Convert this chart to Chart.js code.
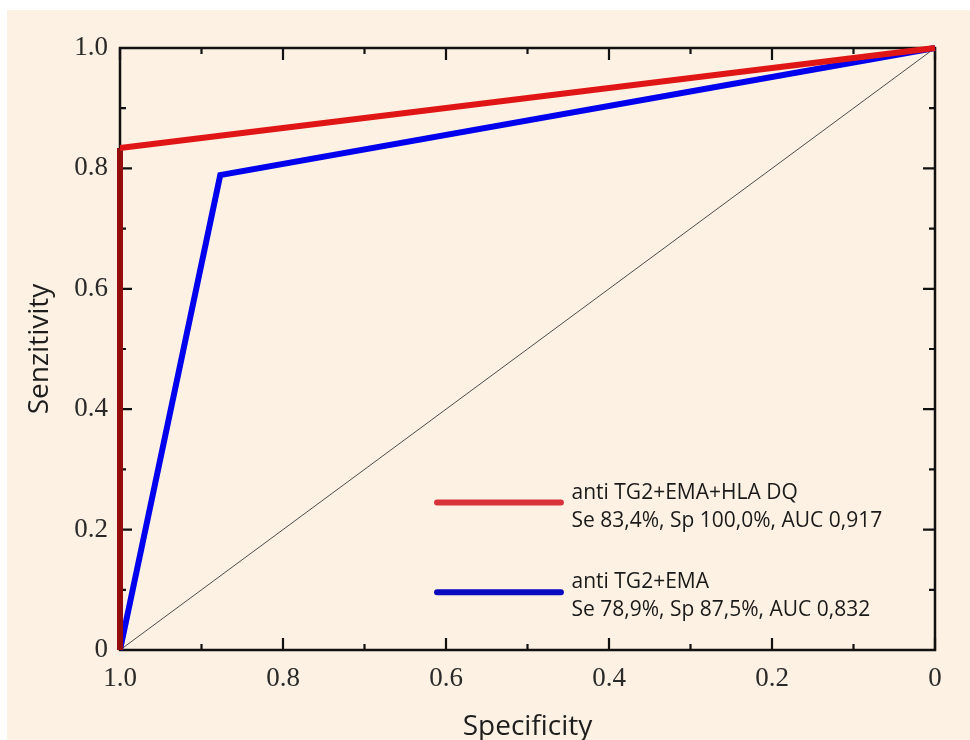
<!DOCTYPE html>
<html>
<head>
<meta charset="utf-8">
<script src="https://cdn.jsdelivr.net/npm/chart.js@4.4.1/dist/chart.umd.min.js"></script>
<style>
  html, body { margin: 0; padding: 0; background: #ffffff; overflow: hidden; }
  .wrap { position: absolute; left: 7px; top: 10px; width: 963px; height: 740px; background: #fcf1e2; }
</style>
</head>
<body>
<div class="wrap"><canvas id="roc"></canvas></div>
<script>
// ROC curves, values (x = specificity, y = sensitivity)
const redSpec = [1.0, 1.0, 0.0];
const redSens = [0.0, 0.834, 1.0];
const blueSpec = [1.0, 0.877, 0.0];
const blueSens = [0.0, 0.789, 1.0];
const refSpec = [1.0, 0.0];
const refSens = [0.0, 1.0];

const legendNames = ["anti TG2+EMA+HLA DQ", "anti TG2+EMA"];
const legendStats = ["Se 83,4%, Sp 100,0%, AUC 0,917", "Se 78,9%, Sp 87,5%, AUC 0,832"];

const RED = "#e01616";
const RED_DARK = "#950c0c";
const BLUE = "#0000ee";

function toPoints(xs, ys) {
  return xs.map(function (v, i) { return { x: v, y: ys[i] }; });
}

function isMajor(v) {
  return Math.round(v * 10) % 2 === 0;
}

function tickLabel(v) {
  const n = Math.round(v * 10);
  if (n % 2 !== 0) return "";
  return n === 0 ? "0" : (n / 10).toFixed(1);
}

// Box frame with inward tick marks on all four sides (major every 0.2, minor 0.1)
const framePlugin = {
  id: "frame",
  beforeDatasetsDraw: function (chart) {
    const ctx = chart.ctx;
    const a = chart.chartArea;
    const xs = chart.scales.x;
    const ys = chart.scales.y;
    ctx.save();
    ctx.strokeStyle = "#111";
    ctx.lineWidth = 2.5;
    ctx.strokeRect(a.left, a.top, a.right - a.left, a.bottom - a.top);
    ctx.lineWidth = 2.2;
    ctx.beginPath();
    xs.ticks.forEach(function (t) {
      const px = xs.getPixelForValue(t.value);
      const len = isMajor(t.value) ? 12 : 6;
      ctx.moveTo(px, a.bottom); ctx.lineTo(px, a.bottom - len);
      ctx.moveTo(px, a.top); ctx.lineTo(px, a.top + len);
    });
    ys.ticks.forEach(function (t) {
      const py = ys.getPixelForValue(t.value);
      const len = isMajor(t.value) ? 12 : 6;
      ctx.moveTo(a.left, py); ctx.lineTo(a.left + len, py);
      ctx.moveTo(a.right, py); ctx.lineTo(a.right - len, py);
    });
    ctx.stroke();
    ctx.restore();
  }
};

// Legend inside the plot, two text lines per entry
const legendPlugin = {
  id: "rocLegend",
  afterDraw: function (chart) {
    const ctx = chart.ctx;
    const xs = chart.scales.x;
    const ys = chart.scales.y;
    const colors = ["#d8323a", "#0a0ac0"];
    const rows = [0.245, 0.096];
    ctx.save();
    rows.forEach(function (r, i) {
      const yPx = ys.getPixelForValue(r);
      const x0 = xs.getPixelForValue(0.611);
      const x1 = xs.getPixelForValue(0.459);
      ctx.strokeStyle = colors[i];
      ctx.lineWidth = 6;
      ctx.lineCap = "round";
      ctx.beginPath();
      ctx.moveTo(x0, yPx);
      ctx.lineTo(x1, yPx);
      ctx.stroke();
      const tx = xs.getPixelForValue(0.446);
      ctx.fillStyle = "#1a1a1a";
      ctx.font = "21px 'Open Sans'";
      ctx.textBaseline = "alphabetic";
      ctx.textAlign = "left";
      ctx.fillText(legendNames[i], tx, yPx - 4);
      ctx.fillText(legendStats[i], tx, yPx + 24);
    });
    ctx.restore();
  }
};

new Chart(document.getElementById("roc"), {
  type: "scatter",
  data: {
    datasets: [
      {
        label: legendNames[0],
        data: toPoints(redSpec, redSens),
        showLine: true,
        borderColor: RED,
        borderWidth: 6,
        pointRadius: 0,
        clip: false,
        segment: {
          borderColor: function (c) { return c.p0DataIndex === 0 ? RED_DARK : RED; }
        }
      },
      {
        label: legendNames[1],
        data: toPoints(blueSpec, blueSens),
        showLine: true,
        borderColor: BLUE,
        borderWidth: 6,
        pointRadius: 0,
        clip: false
      },
      {
        label: "reference",
        data: toPoints(refSpec, refSens),
        showLine: true,
        borderColor: "#3a3a3a",
        borderWidth: 0.9,
        pointRadius: 0,
        clip: false
      }
    ]
  },
  options: {
    responsive: true,
    maintainAspectRatio: false,
    animation: false,
    layout: { padding: { top: 38, right: 35, left: 0, bottom: 0 } },
    plugins: {
      legend: { display: false },
      tooltip: { enabled: false }
    },
    scales: {
      x: {
        type: "linear",
        min: 0,
        max: 1,
        reverse: true,
        grid: { display: false, drawTicks: false },
        border: { display: false },
        ticks: {
          stepSize: 0.1,
          autoSkip: false,
          maxRotation: 0,
          padding: 13,
          color: "#2a2a2a",
          font: { family: "'Liberation Serif'", size: 27 },
          callback: tickLabel
        },
        title: {
          display: true,
          text: "Specificity",
          color: "#1e1e1e",
          font: { family: "'Open Sans'", size: 28 },
          padding: { top: 0, bottom: 6 }
        },
        afterFit: function (s) { s.height = 100; }
      },
      y: {
        type: "linear",
        min: 0,
        max: 1,
        grid: { display: false, drawTicks: false },
        border: { display: false },
        ticks: {
          stepSize: 0.1,
          autoSkip: false,
          padding: 12,
          color: "#2a2a2a",
          font: { family: "'Liberation Serif'", size: 27 },
          callback: tickLabel
        },
        title: {
          display: true,
          text: "Senzitivity",
          color: "#1e1e1e",
          font: { family: "'Open Sans'", size: 28 },
          padding: { top: 16, bottom: 0 }
        },
        afterFit: function (s) { s.width = 113; }
      }
    }
  },
  plugins: [framePlugin, legendPlugin]
});
</script>
</body>
</html>
